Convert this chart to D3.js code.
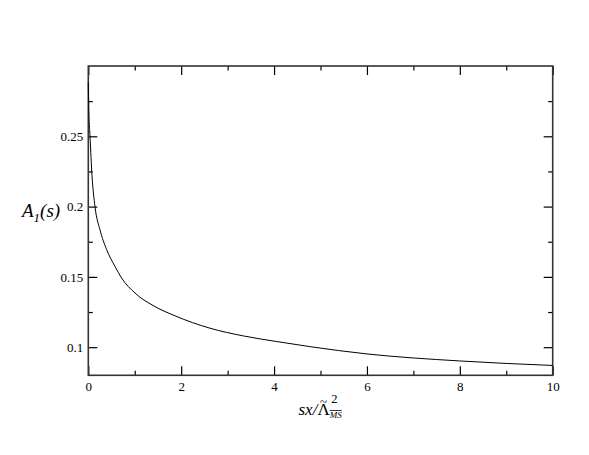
<!DOCTYPE html>
<html>
<head>
<meta charset="utf-8">
<script src="https://cdn.jsdelivr.net/npm/d3@7"></script>
<style>
  body { margin: 0; background: #fff; }
  svg { display: block; }
  svg text { font-family: 'Liberation Serif', 'Times New Roman', Tinos, 'DejaVu Serif', serif !important; fill: #000; }
  .tick text { font-size: 13px; }
  .tick line { stroke: #000; }
</style>
</head>
<body>
<svg class="chart" width="589" height="455"></svg>
<script>
const xVals = [0, 0.01, 0.037, 0.08, 0.144, 0.252, 0.396, 0.575, 0.719, 1.006, 1.436, 1.867, 2.62, 3.34, 4.06, 4.77, 6, 8, 10];
const yVals = [0.288, 0.27, 0.25, 0.222, 0.2, 0.1835, 0.1693, 0.1574, 0.1491, 0.1385, 0.1289, 0.1223, 0.1135, 0.108, 0.104, 0.1004, 0.0952, 0.0902, 0.087];
const xTicks = [0, 2, 4, 6, 8, 10];
const xMinor = [1, 3, 5, 7, 9];
const yTicks = [0.1, 0.15, 0.2, 0.25];
const yMinor = [0.125, 0.175, 0.225, 0.275];

const data = xVals.map((x, i) => ({ x: x, y: yVals[i] }));

const svg = d3.select('.chart');
const width = +svg.attr('width');
const height = +svg.attr('height');
const margin = { top: 66, right: 36.3, bottom: 79.7, left: 88.3 };
const innerWidth = width - margin.left - margin.right;
const innerHeight = height - margin.top - margin.bottom;

const xScale = d3.scaleLinear().domain([0, 10]).range([0, innerWidth]);
const yScale = d3.scaleLinear().domain([0.08, 0.3]).range([innerHeight, 0]);

const g = svg.append('g')
    .attr('transform', `translate(${margin.left}, ${margin.top})`);

const fmt = d => String(+d.toFixed(2));

// helper for tick-only axes (no labels)
function ticksOnly(axis, size, pos) {
    g.append('g')
        .attr('transform', pos || null)
        .call(axis.tickSize(-size))
        .call(a => a.select('.domain').remove())
        .call(a => a.selectAll('text').remove());
}

// bottom axis with labels
g.append('g')
    .attr('transform', `translate(0, ${innerHeight})`)
    .call(d3.axisBottom(xScale).tickValues(xTicks).tickSize(-9).tickPadding(6.5).tickFormat(fmt))
    .call(a => a.select('.domain').remove());
ticksOnly(d3.axisBottom(xScale).tickValues(xMinor), 4.5, `translate(0, ${innerHeight})`);
// top ticks
ticksOnly(d3.axisTop(xScale).tickValues(xTicks), 9);
ticksOnly(d3.axisTop(xScale).tickValues(xMinor), 4.5);

// left axis with labels
g.append('g')
    .call(d3.axisLeft(yScale).tickValues(yTicks).tickSize(-9).tickPadding(5).tickFormat(fmt))
    .call(a => a.select('.domain').remove());
ticksOnly(d3.axisLeft(yScale).tickValues(yMinor), 4.5);
// right ticks
ticksOnly(d3.axisRight(yScale).tickValues(yTicks), 9, `translate(${innerWidth}, 0)`);
ticksOnly(d3.axisRight(yScale).tickValues(yMinor), 4.5, `translate(${innerWidth}, 0)`);

g.selectAll('.tick line').attr('stroke-width', 1.2);

// frame
g.append('rect')
    .attr('width', innerWidth)
    .attr('height', innerHeight)
    .attr('fill', 'none')
    .attr('stroke', '#333')
    .attr('stroke-width', 1.6);

// the curve
const line = d3.line()
    .x(d => xScale(d.x))
    .y(d => yScale(d.y))
    .curve(d3.curveMonotoneX);

g.append('path')
    .datum(data)
    .attr('d', line)
    .attr('fill', 'none')
    .attr('stroke', '#000')
    .attr('stroke-width', 1);

// y label A_1(s)
const yl = svg.append('text')
    .attr('x', 22)
    .attr('y', 217)
    .attr('font-style', 'italic')
    .attr('font-size', 19);
yl.append('tspan').text('A');
yl.append('tspan').attr('font-size', 13).attr('dy', 5).text('1');
yl.append('tspan').attr('dy', -5).text('(s)');

// x label sx/Λ̃²_MS
const xl = svg.append('text')
    .attr('x', 298.5)
    .attr('y', 414.5)
    .attr('font-size', 17);
xl.append('tspan').attr('font-style', 'italic').text('sx/');
const sxW = xl.node().getComputedTextLength();
xl.append('tspan').text('\u039B');
const lamEnd = xl.node().getComputedTextLength() + 298.5;
const lamMid = 298.5 + (sxW + xl.node().getComputedTextLength()) / 2;
svg.append('text')
    .attr('x', lamMid)
    .attr('y', 406)
    .attr('text-anchor', 'middle')
    .attr('font-size', 13)
    .text('~');
svg.append('text')
    .attr('x', lamEnd + 1.5)
    .attr('y', 402.5)
    .attr('font-size', 12.5)
    .text('2');
const ms = svg.append('text')
    .attr('x', lamEnd)
    .attr('y', 417.5)
    .attr('font-style', 'italic')
    .attr('font-size', 9)
    .text('MS');
const msW = ms.node().getComputedTextLength();
svg.append('line')
    .attr('x1', lamEnd).attr('x2', lamEnd + msW)
    .attr('y1', 410.5).attr('y2', 410.5)
    .attr('stroke', '#000')
    .attr('stroke-width', 0.8);
</script>
</body>
</html>
